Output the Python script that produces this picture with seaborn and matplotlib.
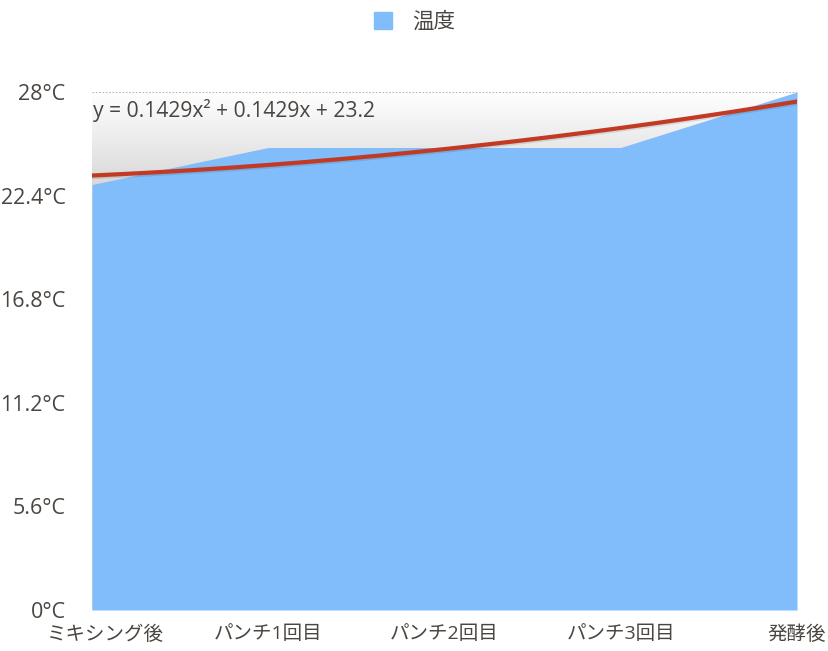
import numpy as np
import pandas as pd
import matplotlib.pyplot as plt
import matplotlib.patheffects as pe
import matplotlib.transforms as mtrans
from matplotlib.patches import Patch
import seaborn as sns

stages = ['ミキシング後', 'パンチ1回目', 'パンチ2回目', 'パンチ3回目', '発酵後']
temps = [23, 25, 25, 25, 28]
yticks = [0, 5.6, 11.2, 16.8, 22.4, 28]

sns.set_theme(style="white")
plt.rcParams['font.family'] = ['Open Sans', 'Noto Sans CJK JP', 'DejaVu Sans']
txt = '#4a4540'
blue = '#80bdfa'
red = '#c23a24'

df = pd.DataFrame({'x': np.arange(1, len(stages) + 1), 'stage': stages, 'temp': temps})

# quadratic trend over x = 1..n
c2, c1, c0 = np.polyfit(df['x'], df['temp'], 2)
xs = np.linspace(1, len(stages), 200)
trend = pd.DataFrame({'x': xs, 'y': c2 * xs**2 + c1 * xs + c0})

fig = plt.figure(figsize=(8.29, 6.51), dpi=100)
ax = fig.add_axes([92 / 829, 1 - 610 / 651, (797 - 92) / 829, (610 - 92) / 651])

# background gradient (white at top -> grey lower down)
grad = np.clip(np.linspace(0, 1, 300) * 5.0, 0, 1)[:, None]
shade = 1 - 0.17 * grad
ax.imshow(np.dstack([shade, shade, shade]), extent=[1, 5, 0, 28], origin='upper',
          aspect='auto', zorder=0)

ax.fill_between(df['x'], 0, df['temp'], color=blue, lw=0, zorder=1)
sns.lineplot(data=trend, x='x', y='y', ax=ax, color=red, lw=3, zorder=3,
             path_effects=[pe.SimpleLineShadow(offset=(0, -1.2), alpha=0.12), pe.Normal()])

ax.axhline(28, color='#b8b8b8', lw=0.8, ls=(0, (1.5, 1.5)), zorder=2)

ax.set_xlim(1, len(stages))
ax.set_ylim(0, 28)
ax.set_xticks(df['x'])
ax.set_xticklabels(stages, fontsize=14, color=txt)
ax.set_yticks(yticks)
ax.set_yticklabels([f'{v:g}°C' for v in yticks], fontsize=15.5, color=txt)
ax.tick_params(axis='x', length=0, pad=11)
ax.tick_params(axis='y', length=0, pad=19)
# first category label sits a bit to the right, as in the source chart
first = ax.get_xticklabels()[0]
first.set_transform(first.get_transform() + mtrans.ScaledTranslation(0.13, 0, fig.dpi_scale_trans))
ax.set_xlabel('')
ax.set_ylabel('')
for s in ax.spines.values():
    s.set_visible(False)

ax.text(1.005, 27.6, f'y = {c2:.4f}x² + {c1:.4f}x + {c0:.1f}', fontsize=15.2, color=txt,
        va='top', ha='left', zorder=4)

fig.legend(handles=[Patch(color=blue, label='温度')], loc='upper center',
           bbox_to_anchor=(0.5, 1.012), frameon=False, fontsize=15.5,
           handlelength=0.85, handleheight=0.85, handletextpad=0.9, labelcolor=txt)

fig.savefig('out.png', dpi=100)
